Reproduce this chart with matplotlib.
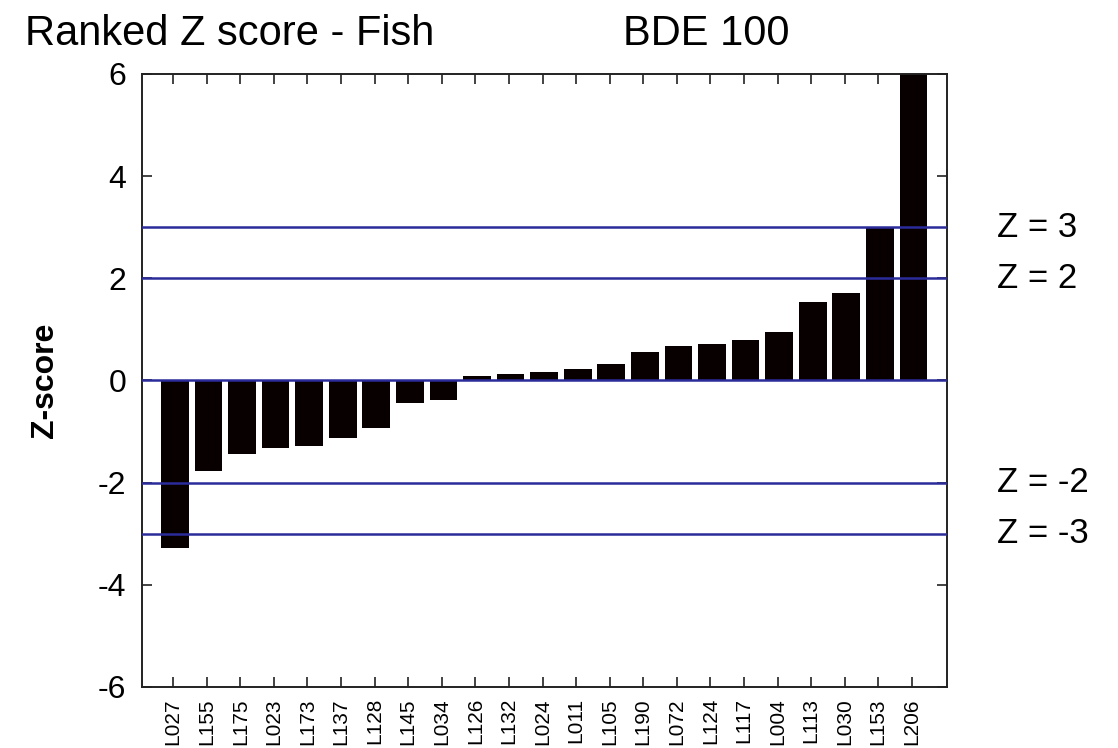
import matplotlib
matplotlib.use('Agg')
from matplotlib import pyplot as plt
from matplotlib import transforms
import numpy as np

plt.rcParams['font.family'] = ['Liberation Sans', 'DejaVu Sans']

labs = ['L027', 'L155', 'L175', 'L023', 'L173', 'L137', 'L128', 'L145', 'L034',
        'L126', 'L132', 'L024', 'L011', 'L105', 'L190', 'L072', 'L124', 'L117',
        'L004', 'L113', 'L030', 'L153', 'L206']
zscores = [-3.27, -1.78, -1.43, -1.32, -1.28, -1.12, -0.93, -0.45, -0.38,
           0.09, 0.13, 0.17, 0.23, 0.32, 0.56, 0.68, 0.71, 0.79,
           0.94, 1.53, 1.72, 2.99, 7.2]
limits = [3, 2, 0, -2, -3]
limit_labels = ['Z = 3', 'Z = 2', None, 'Z = -2', 'Z = -3']
yticks = [-6, -4, -2, 0, 2, 4, 6]

fig = plt.figure(figsize=(11.18, 7.48), dpi=100)
ax = fig.add_axes([0.1267, 0.0816, 0.7201, 0.8195])

x = np.arange(len(labs))
ax.bar(x + 0.05, zscores, width=0.825, color='#080000', zorder=2)

line_col = '#2b2b9c'
for lim, txt in zip(limits, limit_labels):
    ax.axhline(lim, color=line_col, lw=1.8, zorder=3)
    if txt:
        tr = transforms.blended_transform_factory(ax.transAxes, ax.transData)
        ax.text(1.0625, lim, txt, transform=tr, fontsize=25, va='center', ha='left')

ax.set_xlim(-0.94, 23.04)
ax.set_ylim(-6, 6)
ax.set_yticks(yticks)
ax.set_yticklabels([str(t) for t in yticks], fontsize=23)
ax.set_xticks(x)
ax.set_xticklabels(labs, rotation=90, fontsize=15)
ax.tick_params(axis='both', direction='in', length=7, width=1.2,
               top=True, right=True, color='#222222')
ax.tick_params(axis='y', pad=11)
ax.tick_params(axis='x', pad=8)
for s in ax.spines.values():
    s.set_linewidth(1.4)
    s.set_color('#222222')

ax.set_ylabel('Z-score', fontsize=23, fontweight='bold')
ax.yaxis.set_label_coords(-0.1015, 0.5)

fig.text(0.0224, 0.940, 'Ranked Z score - Fish', fontsize=30, ha='left', va='baseline')
fig.text(0.557, 0.940, 'BDE 100', fontsize=30, ha='left', va='baseline')

fig.savefig('out.png', dpi=100)
